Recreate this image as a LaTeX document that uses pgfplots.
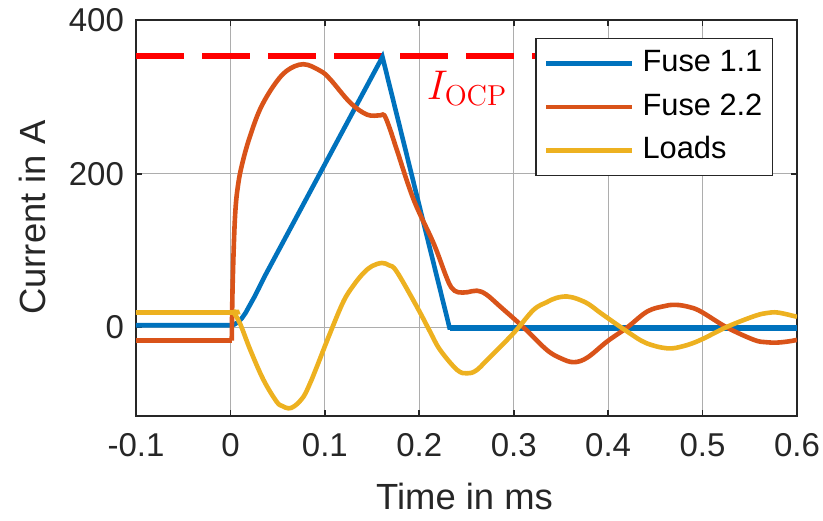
\documentclass[border=0pt]{standalone}
\usepackage[no-math]{fontspec}
\setmainfont{Liberation Sans}
\usepackage{pgfplots}
\pgfplotsset{compat=1.18}
\definecolor{mblue}{RGB}{0,114,189}
\definecolor{morange}{RGB}{217,83,25}
\definecolor{myellow}{RGB}{237,177,32}
\definecolor{axgray}{RGB}{38,38,38}
\begin{document}
\begin{tikzpicture}
\begin{axis}[
  scale only axis, width=330.5pt, height=198pt,
  xmin=-0.1, xmax=0.6, ymin=-115, ymax=400,
  xtick={-0.1,0,0.1,0.2,0.3,0.4,0.5,0.6},
  xticklabels={-0.1,0,0.1,0.2,0.3,0.4,0.5,0.6},
  ytick={0,200,400},
  yticklabels={0,200,400},
  tick align=inside, major tick length=3pt,
  every tick/.style={axgray, line width=0.8pt},
  axis line style={axgray, line width=0.8pt},
  grid=major,
  major grid style={black!32, line width=0.6pt},
  tick label style={font=\fontsize{16.5}{19}\selectfont, text=axgray},
  xticklabel style={yshift=-5pt},
  yticklabel style={xshift=-2.5pt},
  xlabel={Time in ms}, ylabel={Current in A},
  label style={font=\fontsize{18.2}{21}\selectfont, text=axgray},
  xlabel style={at={(axis description cs:0.497,-0.2045)}, anchor=center},
  ylabel style={at={(axis description cs:-0.1573,0.501)}, anchor=center},
  legend image code/.code={\draw[#1] (0pt,0pt) -- (43pt,0pt);},
  legend cell align=left,
  legend style={at={(rel axis cs:0.9637,0.9545)}, anchor=north east,
    draw=axgray, line width=0.6pt, fill=white,
    font=\fontsize{15.4}{18}\selectfont,
    inner xsep=4pt, inner ysep=4.5pt, row sep=5.7pt, column sep=3pt,
    nodes={inner sep=1pt, text height=11pt, text depth=3pt}},
]
% over-current protection threshold
\addplot[red, line width=3pt, dash pattern=on 24pt off 9pt, forget plot]
  coordinates {(-0.1,353) (0.55,353)};
\node[red, font=\fontsize{20.7}{24}\selectfont] at (axis cs:0.2506,311) {$I_{\mathrm{OCP}}$};

% Fuse 1.1
\addplot[mblue, line width=2.3pt] coordinates {
  (-0.1,3) (0,3) (0.004,4) (0.008,7) (0.012,12) (0.016,19) (0.02,28)
  (0.025,39) (0.03,51) (0.036,66) (0.161,352) (0.232,0) (0.6,0)};
\addlegendentry{Fuse 1.1}
% residual ripple after the fuse has cleared
\addplot[mblue, line width=3pt, forget plot] coordinates {(0.232,0) (0.6,0)};

% Fuse 2.2: pre-fault level, then the transient
\addplot[morange, line width=2.3pt, forget plot] coordinates {(-0.1,-17) (0.0014,-17)};
\addplot[morange, line width=2.3pt, smooth, tension=0.6] coordinates {
  (0.0014,-17) (0.0024,58) (0.0049,145) (0.0084,188)
  (0.0137,219) (0.0208,249) (0.0314,284) (0.0455,314) (0.0597,334)
  (0.0773,342.5) (0.095,334) (0.1056,323) (0.1268,292.6) (0.1445,277)
  (0.1586,276) (0.163,276) (0.169,258) (0.176,232) (0.194,166.5)
  (0.215,110) (0.228,68) (0.234,52) (0.241,46) (0.251,46) (0.261,48)
  (0.271,43) (0.286,27) (0.3106,0) (0.335,-29) (0.35,-40) (0.3637,-45)
  (0.378,-39) (0.399,-18) (0.420,0) (0.4415,21) (0.46,28) (0.4715,29.6)
  (0.485,27) (0.498,21) (0.526,0) (0.5545,-16) (0.567,-19) (0.579,-19.5)
  (0.591,-18) (0.6,-16)};
\addlegendentry{Fuse 2.2}

% Loads
\addplot[myellow, line width=2.3pt, smooth, tension=0.6] coordinates {
  (-0.1,19.6) (0.0,19.6) (0.003,19.6) (0.010,5.7) (0.021,-29) (0.035,-68)
  (0.049,-96.5) (0.055,-102) (0.0614,-105) (0.068,-102) (0.0773,-90)
  (0.0845,-72) (0.0915,-51) (0.1056,-7) (0.1197,34) (0.1304,55) (0.141,71)
  (0.150,80) (0.1604,84) (0.168,81) (0.176,73) (0.1975,27) (0.2117,-6)
  (0.222,-29) (0.24,-55) (0.2506,-59.5) (0.26,-56) (0.272,-42) (0.300,-7)
  (0.321,23) (0.335,33) (0.345,38.5) (0.3566,40.4) (0.368,37) (0.38,30)
  (0.392,19) (0.420,-5) (0.44,-20) (0.4627,-27) (0.48,-24) (0.498,-16)
  (0.526,1) (0.555,15) (0.5686,19) (0.58,19.5) (0.6,14)};
\addlegendentry{Loads}
\end{axis}
\pgfresetboundingbox
\path (current axis.south west) ++(-68pt,-52pt) rectangle ([shift={(13pt,10pt)}]current axis.north east);
\end{tikzpicture}
\end{document}
